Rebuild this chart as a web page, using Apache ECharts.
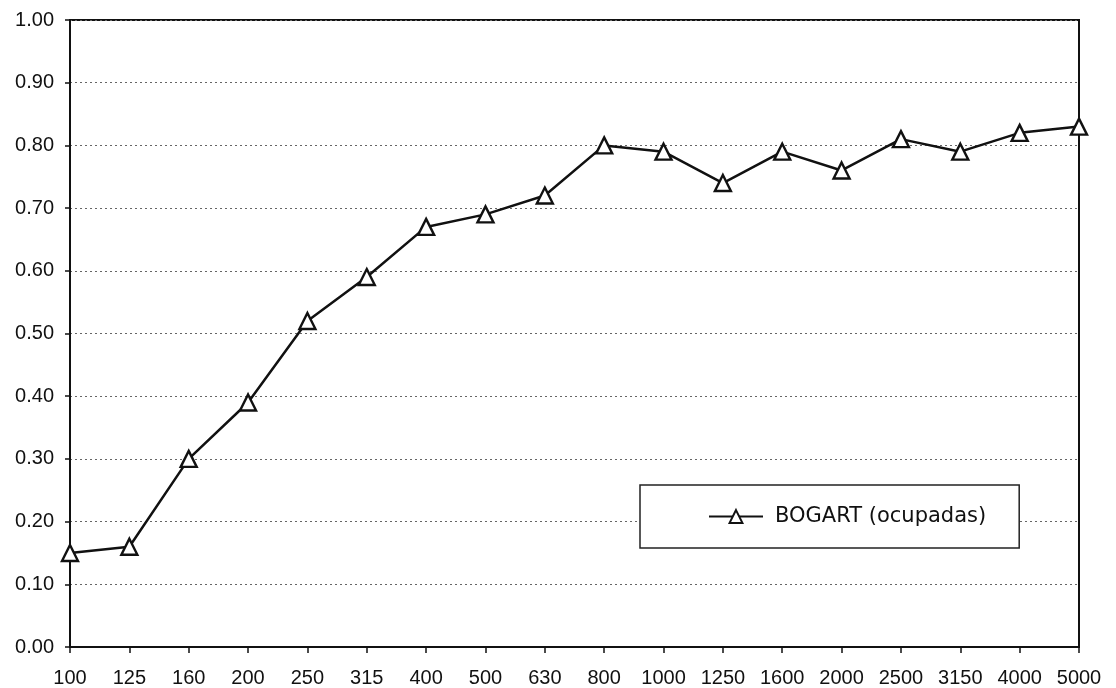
<!DOCTYPE html>
<html><head><meta charset="utf-8">
<script src="https://cdn.jsdelivr.net/npm/echarts@6/dist/echarts.min.js"></script>
<style>html,body{margin:0;padding:0;background:#fff}#c{width:1116px;height:688px}</style>
</head><body><div id="c"></div>
<script>
const categories = ['100','125','160','200','250','315','400','500','630','800','1000','1250','1600','2000','2500','3150','4000','5000'];
const seriesName = 'BOGART (ocupadas)';
const values = [0.15,0.16,0.30,0.39,0.52,0.59,0.67,0.69,0.72,0.80,0.79,0.74,0.79,0.76,0.81,0.79,0.82,0.83];

const chart = echarts.init(document.getElementById('c'), null, {renderer:'canvas'});
chart.setOption({
  backgroundColor:'#fff',
  animation:false,
  grid:{left:70,right:37,top:20,bottom:41,show:true,borderColor:'#111',borderWidth:2,backgroundColor:'transparent'},
  legend:{
    show:true, left:640, top:485, orient:'horizontal',
    backgroundColor:'#fff', borderColor:'#222', borderWidth:1.5,
    padding:[21,33,21,68], itemWidth:54, itemHeight:16,
    textStyle:{fontFamily:'DejaVu Sans', fontSize:21, color:'#111', padding:[0,0,0,7]},
    data:[{name:seriesName}]
  },
  xAxis:{
    type:'category', data:categories, boundaryGap:false,
    axisLine:{lineStyle:{color:'#111',width:2}},
    axisTick:{show:true,length:6,lineStyle:{color:'#111',width:1.5}},
    axisLabel:{fontFamily:'Liberation Sans',fontSize:20,color:'#111',margin:21},
    splitLine:{show:false}
  },
  yAxis:{
    type:'value', min:0, max:1, interval:0.1,
    axisLine:{show:true,lineStyle:{color:'#111',width:2}},
    axisTick:{show:true,length:5,lineStyle:{color:'#111',width:1.5}},
    axisLabel:{fontFamily:'Liberation Sans',fontSize:20,color:'#111',margin:16,formatter:v=>v.toFixed(2)},
    splitLine:{show:true,lineStyle:{color:'#666',type:[2,3],width:1.2}}
  },
  series:[{
    name:seriesName, type:'line', data:values,
    symbol:'triangle', symbolSize:16,
    itemStyle:{color:'#fff',borderColor:'#111',borderWidth:2.4},
    lineStyle:{color:'#111',width:2.5},
    z:5
  }]
});
</script></body></html>
